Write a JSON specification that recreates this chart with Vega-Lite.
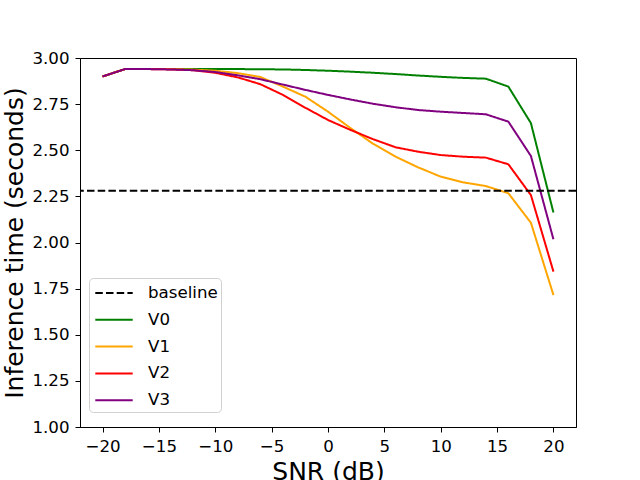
{
  "$schema": "https://vega.github.io/schema/vega-lite/v6.json",
  "autosize": "none",
  "width": 496,
  "height": 369,
  "padding": {"left": 80, "top": 58, "right": 64, "bottom": 53},
  "background": "white",
  "config": {
    "view": {"stroke": "black", "strokeWidth": 1},
    "font": "DejaVu Sans",
    "axis": {
      "grid": false,
      "domainColor": "black",
      "tickColor": "black",
      "labelColor": "black",
      "titleColor": "black",
      "labelFont": "DejaVu Sans",
      "titleFont": "DejaVu Sans",
      "labelFontSize": 16.67,
      "titleFontSize": 25,
      "titleFontWeight": "normal",
      "tickSize": 5,
      "labelPadding": 6
    },
    "legend": {
      "labelFont": "DejaVu Sans",
      "labelFontSize": 16.67,
      "labelColor": "black"
    }
  },
  "layer": [
    {
      "data": {"values": [
        {"snr": -20, "time": 2.90, "series": "V0"},
        {"snr": -18, "time": 2.94, "series": "V0"},
        {"snr": -16, "time": 2.94, "series": "V0"},
        {"snr": -14, "time": 2.94, "series": "V0"},
        {"snr": -12, "time": 2.94, "series": "V0"},
        {"snr": -10, "time": 2.94, "series": "V0"},
        {"snr": -8, "time": 2.94, "series": "V0"},
        {"snr": -6, "time": 2.939, "series": "V0"},
        {"snr": -4, "time": 2.938, "series": "V0"},
        {"snr": -2, "time": 2.935, "series": "V0"},
        {"snr": 0, "time": 2.931, "series": "V0"},
        {"snr": 2, "time": 2.926, "series": "V0"},
        {"snr": 4, "time": 2.92, "series": "V0"},
        {"snr": 6, "time": 2.913, "series": "V0"},
        {"snr": 8, "time": 2.905, "series": "V0"},
        {"snr": 10, "time": 2.898, "series": "V0"},
        {"snr": 12, "time": 2.892, "series": "V0"},
        {"snr": 14, "time": 2.888, "series": "V0"},
        {"snr": 16, "time": 2.845, "series": "V0"},
        {"snr": 18, "time": 2.647, "series": "V0"},
        {"snr": 20, "time": 2.162, "series": "V0"},

        {"snr": -20, "time": 2.90, "series": "V1"},
        {"snr": -18, "time": 2.94, "series": "V1"},
        {"snr": -16, "time": 2.94, "series": "V1"},
        {"snr": -14, "time": 2.94, "series": "V1"},
        {"snr": -12, "time": 2.937, "series": "V1"},
        {"snr": -10, "time": 2.931, "series": "V1"},
        {"snr": -8, "time": 2.918, "series": "V1"},
        {"snr": -6, "time": 2.897, "series": "V1"},
        {"snr": -4, "time": 2.845, "series": "V1"},
        {"snr": -2, "time": 2.79, "series": "V1"},
        {"snr": 0, "time": 2.709, "series": "V1"},
        {"snr": 2, "time": 2.62, "series": "V1"},
        {"snr": 4, "time": 2.535, "series": "V1"},
        {"snr": 6, "time": 2.465, "series": "V1"},
        {"snr": 8, "time": 2.407, "series": "V1"},
        {"snr": 10, "time": 2.357, "series": "V1"},
        {"snr": 12, "time": 2.326, "series": "V1"},
        {"snr": 14, "time": 2.306, "series": "V1"},
        {"snr": 16, "time": 2.267, "series": "V1"},
        {"snr": 18, "time": 2.107, "series": "V1"},
        {"snr": 20, "time": 1.715, "series": "V1"},

        {"snr": -20, "time": 2.90, "series": "V2"},
        {"snr": -18, "time": 2.94, "series": "V2"},
        {"snr": -16, "time": 2.94, "series": "V2"},
        {"snr": -14, "time": 2.938, "series": "V2"},
        {"snr": -12, "time": 2.934, "series": "V2"},
        {"snr": -10, "time": 2.92, "series": "V2"},
        {"snr": -8, "time": 2.895, "series": "V2"},
        {"snr": -6, "time": 2.858, "series": "V2"},
        {"snr": -4, "time": 2.80, "series": "V2"},
        {"snr": -2, "time": 2.73, "series": "V2"},
        {"snr": 0, "time": 2.664, "series": "V2"},
        {"snr": 2, "time": 2.61, "series": "V2"},
        {"snr": 4, "time": 2.56, "series": "V2"},
        {"snr": 6, "time": 2.516, "series": "V2"},
        {"snr": 8, "time": 2.492, "series": "V2"},
        {"snr": 10, "time": 2.474, "series": "V2"},
        {"snr": 12, "time": 2.465, "series": "V2"},
        {"snr": 14, "time": 2.46, "series": "V2"},
        {"snr": 16, "time": 2.424, "series": "V2"},
        {"snr": 18, "time": 2.257, "series": "V2"},
        {"snr": 20, "time": 1.842, "series": "V2"},

        {"snr": -20, "time": 2.90, "series": "V3"},
        {"snr": -18, "time": 2.94, "series": "V3"},
        {"snr": -16, "time": 2.94, "series": "V3"},
        {"snr": -14, "time": 2.938, "series": "V3"},
        {"snr": -12, "time": 2.934, "series": "V3"},
        {"snr": -10, "time": 2.924, "series": "V3"},
        {"snr": -8, "time": 2.906, "series": "V3"},
        {"snr": -6, "time": 2.885, "series": "V3"},
        {"snr": -4, "time": 2.856, "series": "V3"},
        {"snr": -2, "time": 2.827, "series": "V3"},
        {"snr": 0, "time": 2.80, "series": "V3"},
        {"snr": 2, "time": 2.775, "series": "V3"},
        {"snr": 4, "time": 2.752, "series": "V3"},
        {"snr": 6, "time": 2.733, "series": "V3"},
        {"snr": 8, "time": 2.718, "series": "V3"},
        {"snr": 10, "time": 2.709, "series": "V3"},
        {"snr": 12, "time": 2.702, "series": "V3"},
        {"snr": 14, "time": 2.695, "series": "V3"},
        {"snr": 16, "time": 2.655, "series": "V3"},
        {"snr": 18, "time": 2.469, "series": "V3"},
        {"snr": 20, "time": 2.017, "series": "V3"}
      ]},
      "mark": {"type": "line", "strokeWidth": 2, "clip": true},
      "encoding": {
        "x": {
          "field": "snr", "type": "quantitative",
          "scale": {"domain": [-22, 22], "nice": false, "zero": false},
          "axis": {"values": [-20, -15, -10, -5, 0, 5, 10, 15, 20], "title": "SNR (dB)", "titlePadding": 5}
        },
        "y": {
          "field": "time", "type": "quantitative",
          "scale": {"domain": [1, 3], "nice": false, "zero": false},
          "axis": {"values": [1, 1.25, 1.5, 1.75, 2, 2.25, 2.5, 2.75, 3], "format": ".2f", "title": "Inference time (seconds)", "titlePadding": 4}
        },
        "color": {
          "field": "series", "type": "nominal",
          "scale": {"domain": ["baseline", "V0", "V1", "V2", "V3"], "range": ["black", "#008000", "#FFA500", "#FF0000", "#800080"]},
          "legend": {
            "title": null, "orient": "none", "legendX": 9, "legendY": 220,
            "symbolType": "M-1.7,0H1.7", "symbolSize": 484, "symbolStrokeWidth": 2,
            "symbolOffset": 10,
            "strokeColor": "#d0d0d0", "fillColor": "white", "cornerRadius": 4,
            "padding": 3, "rowPadding": 5.8, "labelOffset": 22
          }
        },
        "strokeDash": {
          "field": "series", "type": "nominal",
          "scale": {"domain": ["baseline", "V0", "V1", "V2", "V3"], "range": [[7.5, 3.2], [1, 0], [1, 0], [1, 0], [1, 0]]},
          "legend": null
        }
      }
    },
    {
      "data": {"values": [{"series": "baseline", "time": 2.28}]},
      "mark": {"type": "rule", "strokeWidth": 2},
      "encoding": {
        "y": {"field": "time", "type": "quantitative"},
        "color": {"field": "series", "type": "nominal"},
        "strokeDash": {"field": "series", "type": "nominal"}
      }
    }
  ]
}
